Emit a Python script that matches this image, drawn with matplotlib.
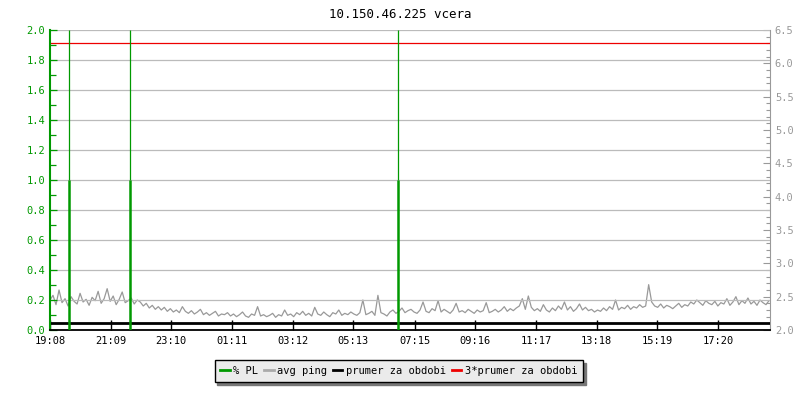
import matplotlib
matplotlib.use("Agg")
import matplotlib.pyplot as plt
from matplotlib.lines import Line2D
from matplotlib.ticker import MultipleLocator

# --- DATA ---
TITLE = "10.150.46.225 vcera"
START = "19:08"
TICK_LABELS = ["19:08", "21:09", "23:10", "01:11", "03:12", "05:13",
               "07:15", "09:16", "11:17", "13:18", "15:19", "17:20"]
SPAN_MIN = 1436  # minutes shown on x axis

# packet loss spikes (minutes from start, % PL)
pl_minutes = [38, 160, 694]
pl_values = [1.0, 1.0, 1.0]

# avg ping [ms], one sample every 6 minutes
ping_step = 6
ping_ms = [
    2.45, 2.52, 2.38, 2.60, 2.41, 2.47, 2.36, 2.50, 2.43, 2.39, 2.55, 2.42, 2.46, 2.37, 2.49, 2.44, 2.58, 2.40, 2.47, 2.62,
    2.43, 2.51, 2.38, 2.46, 2.57, 2.41, 2.44, 2.48, 2.39, 2.45, 2.42, 2.36, 2.40, 2.33, 2.37, 2.31, 2.35, 2.30, 2.34, 2.28,
    2.32, 2.27, 2.30, 2.26, 2.35, 2.28, 2.25, 2.29, 2.24, 2.27, 2.31, 2.23, 2.26, 2.22, 2.25, 2.28, 2.21, 2.24, 2.23, 2.26,
    2.21, 2.24, 2.20, 2.23, 2.27, 2.21, 2.19, 2.24, 2.22, 2.35, 2.21, 2.23, 2.20, 2.22, 2.25, 2.19, 2.23, 2.21, 2.30, 2.22,
    2.24, 2.20, 2.26, 2.23, 2.28, 2.22, 2.25, 2.21, 2.34, 2.24, 2.22, 2.27, 2.23, 2.20, 2.26, 2.24, 2.30, 2.22, 2.25, 2.23,
    2.27, 2.24, 2.22, 2.26, 2.45, 2.23, 2.25, 2.28, 2.22, 2.52, 2.26, 2.24, 2.21, 2.27, 2.30, 2.25, 2.28, 2.33, 2.26, 2.29,
    2.31, 2.27, 2.25, 2.30, 2.42, 2.28, 2.26, 2.32, 2.29, 2.44, 2.27, 2.31, 2.28, 2.25, 2.30, 2.40, 2.27, 2.29, 2.26, 2.31,
    2.28, 2.25, 2.30, 2.27, 2.29, 2.41, 2.26, 2.28, 2.31, 2.27, 2.30, 2.35, 2.28, 2.32, 2.29, 2.33, 2.36, 2.47, 2.31, 2.51,
    2.34, 2.29, 2.32, 2.28, 2.38, 2.30, 2.27, 2.33, 2.29, 2.36, 2.31, 2.42, 2.30, 2.35, 2.28, 2.32, 2.39, 2.30, 2.34, 2.29,
    2.31, 2.27, 2.30, 2.28, 2.33, 2.29, 2.35, 2.31, 2.45, 2.30, 2.34, 2.32, 2.37, 2.31, 2.35, 2.33, 2.38, 2.34, 2.36, 2.68,
    2.42, 2.36, 2.34, 2.39, 2.33, 2.37, 2.35, 2.32, 2.36, 2.40, 2.34, 2.38, 2.36, 2.42, 2.39, 2.45, 2.41, 2.37, 2.44, 2.40,
    2.38, 2.43, 2.36, 2.41, 2.39, 2.47, 2.37, 2.42, 2.50, 2.38, 2.44, 2.40, 2.48, 2.39, 2.43, 2.37, 2.45, 2.41, 2.38, 2.44,
]

avg_period = 2.1          # prumer za obdobi [ms]
avg3_period = 3 * avg_period

GREEN = "#009900"
GRAY = "#999999"
FONT = "DejaVu Sans Mono"


def to_min(label):
    h, m = map(int, label.split(":"))
    sh, sm = map(int, START.split(":"))
    return ((h * 60 + m) - (sh * 60 + sm)) % 1440


plt.rcParams["font.family"] = FONT
plt.rcParams["font.size"] = 7.5

fig = plt.figure(figsize=(8, 4), dpi=100)
ax = fig.add_axes([50 / 800, 1 - 330 / 400, 720 / 800, 300 / 400])
ax2 = ax.twinx()
# packet loss axis on top, transparent background
ax.set_zorder(ax2.get_zorder() + 1)
ax.patch.set_visible(False)

# --- right axis: ping ---
ping_t = [i * ping_step for i in range(len(ping_ms))]
ax2.plot(ping_t, ping_ms, color=GRAY, lw=0.9, zorder=2)
ax2.axhline(avg_period, color="black", lw=2.0, zorder=3)
ax2.axhline(avg3_period, color="#ee0000", lw=0.9, zorder=3)
ax2.set_ylim(2.0, 6.5)
ax2.yaxis.set_major_locator(MultipleLocator(0.5))
ax2.yaxis.set_minor_locator(MultipleLocator(0.1))
ax2.tick_params(axis="y", which="both", direction="in", colors=GRAY, labelcolor=GRAY)
ax2.tick_params(axis="y", which="major", length=5, width=0.8)
ax2.tick_params(axis="y", which="minor", length=3, width=0.8)
for s in ["top", "left", "bottom"]:
    ax2.spines[s].set_visible(False)
ax2.spines["right"].set_color(GRAY)

# --- left axis: packet loss ---
ax.set_ylim(0, 2.0)
ax.set_xlim(0, SPAN_MIN)
ax.yaxis.set_major_locator(MultipleLocator(0.2))
ax.yaxis.set_minor_locator(MultipleLocator(0.1))
ax.grid(axis="y", which="major", color="#bbbbbb", lw=0.9, zorder=0)
ax.vlines(pl_minutes, 0, pl_values, color=GREEN, lw=1.8, zorder=5)
ax.vlines(pl_minutes, pl_values, [2.0] * len(pl_values), color=GREEN, lw=0.9, zorder=5)
ax.tick_params(axis="y", which="both", direction="in", colors=GREEN, labelcolor=GREEN)
ax.tick_params(axis="y", which="major", length=5, width=0.9)
ax.tick_params(axis="y", which="minor", length=4, width=0.9)
ax.set_yticks([0, 0.2, 0.4, 0.6, 0.8, 1.0, 1.2, 1.4, 1.6, 1.8, 2.0])
ax.set_yticklabels([f"{v:.1f}" for v in ax.get_yticks()])

ax.set_xticks([to_min(t) for t in TICK_LABELS])
ax.set_xticklabels(TICK_LABELS)
ax.tick_params(axis="x", direction="in", length=7, width=1.0, colors="black", pad=4)
ax.spines["top"].set_visible(False)
ax.spines["right"].set_visible(False)
ax.spines["left"].set_color(GREEN)
ax.spines["left"].set_linewidth(1.5)
ax.spines["bottom"].set_linewidth(1.3)

fig.text(0.5, 1 - 14 / 400, TITLE, ha="center", va="center", fontsize=9)

handles = [
    Line2D([], [], color=GREEN, lw=2),
    Line2D([], [], color="#aaaaaa", lw=2),
    Line2D([], [], color="black", lw=2),
    Line2D([], [], color="#ee0000", lw=2),
]
labels = ["% PL", "avg ping", "prumer za obdobi", "3*prumer za obdobi"]
leg = fig.legend(handles, labels, ncol=4, loc="center",
                 bbox_to_anchor=(0.4985, 1 - 371 / 400),
                 frameon=True, fancybox=False, shadow={"color": "#777777", "alpha": 1},
                 handlelength=0.9, handletextpad=0.35, columnspacing=0.55,
                 borderpad=0.55, borderaxespad=0)
leg.get_frame().set_facecolor("#ebebeb")
leg.get_frame().set_edgecolor("black")
leg.get_frame().set_linewidth(1.0)
leg.get_frame().set_alpha(1)

fig.savefig("out.png", dpi=100)
